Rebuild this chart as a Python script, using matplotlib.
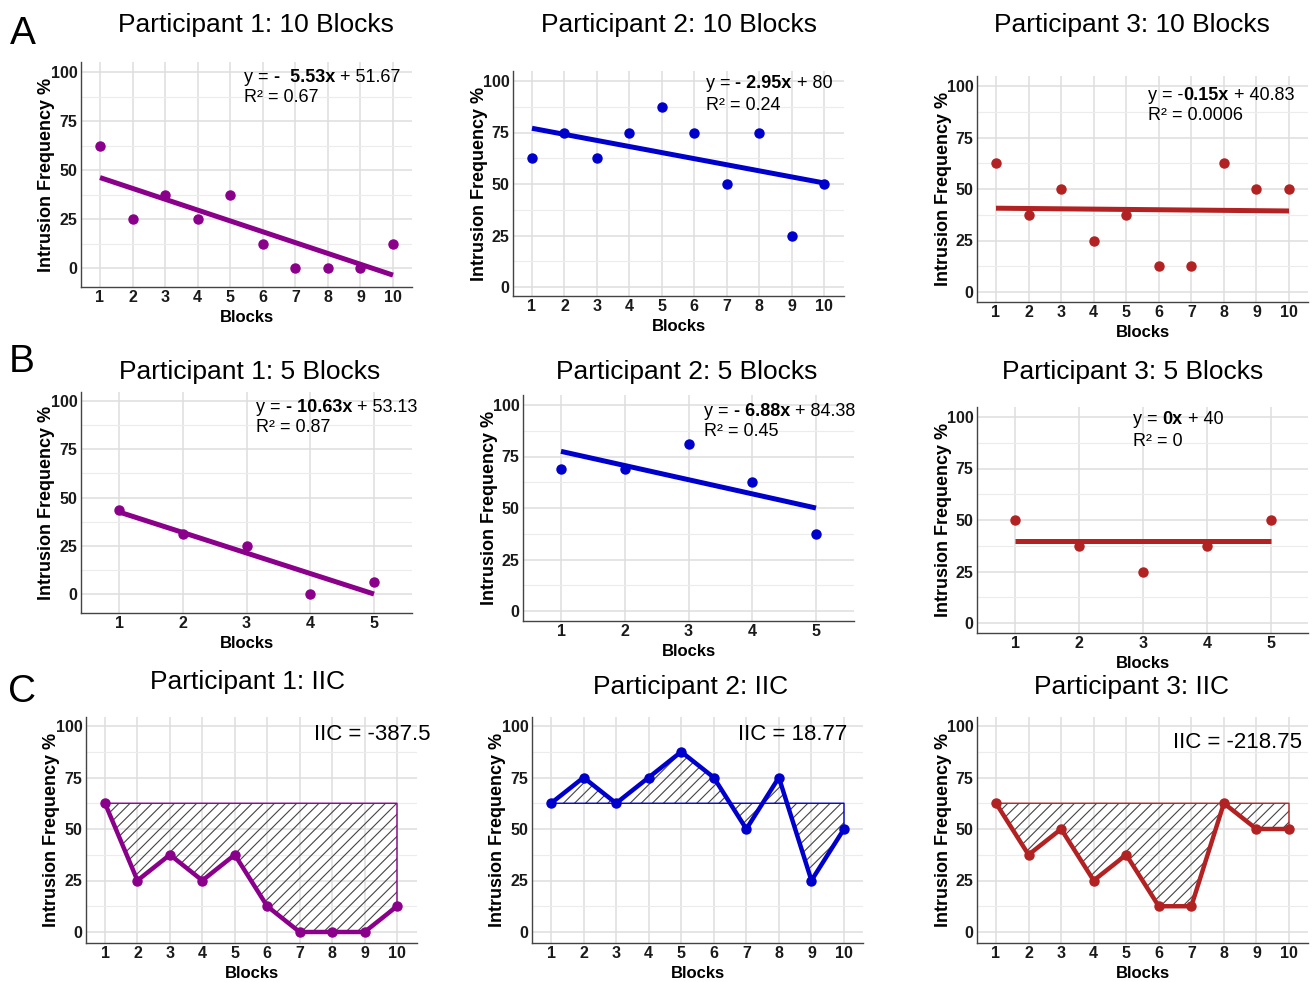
import matplotlib
matplotlib.use("Agg")
import matplotlib.pyplot as plt
from matplotlib.font_manager import FontProperties

W, H = 1314, 982

# ---- data -----------------------------------------------------------------
BLOCKS_10 = [1, 2, 3, 4, 5, 6, 7, 8, 9, 10]
BLOCKS_5 = [1, 2, 3, 4, 5]

P1_10 = [62.5, 25, 37.5, 25, 37.5, 12.5, 0, 0, 0, 12.5]
P2_10 = [62.5, 75, 62.5, 75, 87.5, 75, 50, 75, 25, 50]
P3_10 = [62.5, 37.5, 50, 25, 37.5, 12.5, 12.5, 62.5, 50, 50]

P1_5 = [43.75, 31.25, 25, 0, 6.25]
P2_5 = [68.75, 68.75, 81.25, 62.5, 37.5]
P3_5 = [50, 37.5, 25, 37.5, 50]

SLOPES_10 = [-5.53, -2.95, -0.15]
INTERCEPTS_10 = [51.67, 80, 40.83]
SLOPES_5 = [-10.63, -6.88, 0]
INTERCEPTS_5 = [53.13, 84.38, 40]

EQ_10 = [("y = ", "-  5.53x", " + 51.67"),
         ("y = ", "- 2.95x", " + 80"),
         ("y = -", "0.15x", " + 40.83")]
R2_10 = ["R² = 0.67", "R² = 0.24", "R² = 0.0006"]
EQ_5 = [("y = ", "- 10.63x", " + 53.13"),
        ("y = ", "- 6.88x", " + 84.38"),
        ("y = ", "0x", " + 40")]
R2_5 = ["R² = 0.87", "R² = 0.45", "R² = 0"]

IIC_TEXT = ["IIC = -387.5", "IIC = 18.77", "IIC = -218.75"]

TITLES_10 = ["Participant 1: 10 Blocks", "Participant 2: 10 Blocks", "Participant 3: 10 Blocks"]
TITLES_5 = ["Participant 1: 5 Blocks", "Participant 2: 5 Blocks", "Participant 3: 5 Blocks"]
TITLES_IIC = ["Participant 1: IIC", "Participant 2: IIC", "Participant 3: IIC"]

COLORS = ["#8B008B", "#0000CD", "#B22222"]

# ---- layout (pixels): left, top, right, bottom, x_first, x_last, y100, y0 --
BOX_10 = [(81, 62, 412, 287, 100, 393, 72, 268),
          (513, 71, 844, 296, 532, 824, 81, 287),
          (977, 76, 1308, 302, 996, 1289, 86, 292)]
BOX_5 = [(81, 392, 412, 613, 119, 374, 401, 594),
         (523, 395, 854, 621, 561, 816, 405, 611),
         (977, 407, 1308, 633, 1015, 1271, 417, 623)]
BOX_IIC = [(86, 717, 417, 943, 105, 397, 726, 932),
           (532, 717, 863, 943, 551, 844, 726, 932),
           (977, 717, 1308, 943, 996, 1289, 726, 932)]
TITLE_POS_10 = [(256, 25), (679, 25), (1132, 25)]
TITLE_POS_5 = [(250, 372), (687, 372), (1133, 372)]
TITLE_POS_IIC = [(248, 682), (691, 687), (1132, 687)]
EQ_POS_10 = [(244, 77, 98), (706, 83, 106), (1148, 95, 116)]
EQ_POS_5 = [(256, 407, 428), (704, 411, 432), (1133, 419, 442)]
IIC_POS = [(430, 734), (847, 734), (1302, 743)]
LETTERS = [("A", 23, 34), ("B", 22, 362), ("C", 22, 692)]

SANS = ["Liberation Sans", "DejaVu Sans"]
TICK_FONT = ["Liberation Sans Narrow", "Liberation Sans", "DejaVu Sans"]

plt.rcParams["font.family"] = SANS
plt.rcParams["hatch.linewidth"] = 0.8
plt.rcParams["hatch.color"] = "#444444"

fig = plt.figure(figsize=(W / 100, H / 100), dpi=100)
renderer = fig.canvas.get_renderer()


def fx(px):
    return px / W


def fy(py):
    return 1 - py / H


def make_axes(box, n):
    left, top, right, bottom, x1, xn, y100, y0 = box
    ax = fig.add_axes([fx(left), fy(bottom), (right - left) / W, (bottom - top) / H])
    unit_x = (xn - x1) / (n - 1)
    unit_y = (y0 - y100) / 100
    ax.set_xlim(1 - (x1 - left) / unit_x, n + (right - xn) / unit_x)
    ax.set_ylim(-(bottom - y0) / unit_y, 100 + (y100 - top) / unit_y)
    ax.set_xticks(range(1, n + 1))
    ax.set_yticks([0, 25, 50, 75, 100])
    ax.set_yticks([12.5, 37.5, 62.5, 87.5], minor=True)
    ax.grid(True, which="major", color="#dedede", lw=1.1)
    ax.grid(True, which="minor", axis="y", color="#ececec", lw=0.8)
    ax.set_axisbelow(True)
    for s in ("top", "right"):
        ax.spines[s].set_visible(False)
    for s in ("left", "bottom"):
        ax.spines[s].set_color("#444444")
        ax.spines[s].set_linewidth(1.0)
    ax.tick_params(which="both", length=0, pad=2.5, colors="#1a1a1a")
    for lab in ax.get_xticklabels() + ax.get_yticklabels():
        lab.set_fontfamily(TICK_FONT)
        lab.set_fontweight("bold")
        lab.set_fontsize(11.5)
    cx = (left + right) / 2
    fig.text(fx(cx), fy(bottom + 30.5), "Blocks", ha="center", va="center",
             fontsize=12, fontweight="bold")
    fig.text(fx(left - 34), fy((top + bottom) / 2), "Intrusion Frequency %",
             ha="center", va="center", rotation=90, fontsize=13, fontweight="bold")
    return ax


def text_width(s, size, weight):
    fp = FontProperties(family=SANS, size=size, weight=weight)
    w1, _, _ = renderer.get_text_width_height_descent("|" + s + "|", fp, ismath=False)
    w0, _, _ = renderer.get_text_width_height_descent("||", fp, ismath=False)
    return w1 - w0


def equation(pos, parts, r2, size=13):
    x, y1, y2 = pos
    for s, weight in zip(parts, ("normal", "bold", "normal")):
        fig.text(fx(x), fy(y1), s, ha="left", va="center", fontsize=size,
                 fontweight=weight)
        x += text_width(s, size, weight)
    fig.text(fx(pos[0]), fy(y2), r2, ha="left", va="center", fontsize=size)


def regression_panel(box, blocks, values, slope, intercept, color):
    ax = make_axes(box, len(blocks))
    ends = [blocks[0], blocks[-1]]
    ax.plot(ends, [slope * e + intercept for e in ends], color=color, lw=3.6,
            solid_capstyle="butt", zorder=2)
    ax.plot(blocks, values, "o", color=color, ms=6.5, zorder=3)
    return ax


def iic_panel(box, blocks, values, color):
    ax = make_axes(box, len(blocks))
    base = values[0]
    ax.fill_between(blocks, values, base, facecolor="none", edgecolor="#444444",
                    linewidth=0, hatch="///", zorder=1)
    ax.fill_between(blocks, values, base, facecolor="none", edgecolor=color,
                    linewidth=1.0, zorder=1.5)
    ax.plot(blocks, values, "-o", color=color, lw=3.2, ms=6.5, zorder=3)
    return ax


data_10 = [P1_10, P2_10, P3_10]
data_5 = [P1_5, P2_5, P3_5]

for i in range(3):
    regression_panel(BOX_10[i], BLOCKS_10, data_10[i], SLOPES_10[i],
                     INTERCEPTS_10[i], COLORS[i])
    fig.text(fx(TITLE_POS_10[i][0]), fy(TITLE_POS_10[i][1]), TITLES_10[i],
             ha="center", va="center", fontsize=19)
    equation(EQ_POS_10[i], EQ_10[i], R2_10[i])

    regression_panel(BOX_5[i], BLOCKS_5, data_5[i], SLOPES_5[i],
                     INTERCEPTS_5[i], COLORS[i])
    fig.text(fx(TITLE_POS_5[i][0]), fy(TITLE_POS_5[i][1]), TITLES_5[i],
             ha="center", va="center", fontsize=19)
    equation(EQ_POS_5[i], EQ_5[i], R2_5[i])

    iic_panel(BOX_IIC[i], BLOCKS_10, data_10[i], COLORS[i])
    fig.text(fx(TITLE_POS_IIC[i][0]), fy(TITLE_POS_IIC[i][1]), TITLES_IIC[i],
             ha="center", va="center", fontsize=19)
    fig.text(fx(IIC_POS[i][0]), fy(IIC_POS[i][1]), IIC_TEXT[i],
             ha="right", va="center", fontsize=16)

for letter, x, y in LETTERS:
    fig.text(fx(x), fy(y), letter, ha="center", va="center", fontsize=28)

fig.savefig("out.png", dpi=100)
